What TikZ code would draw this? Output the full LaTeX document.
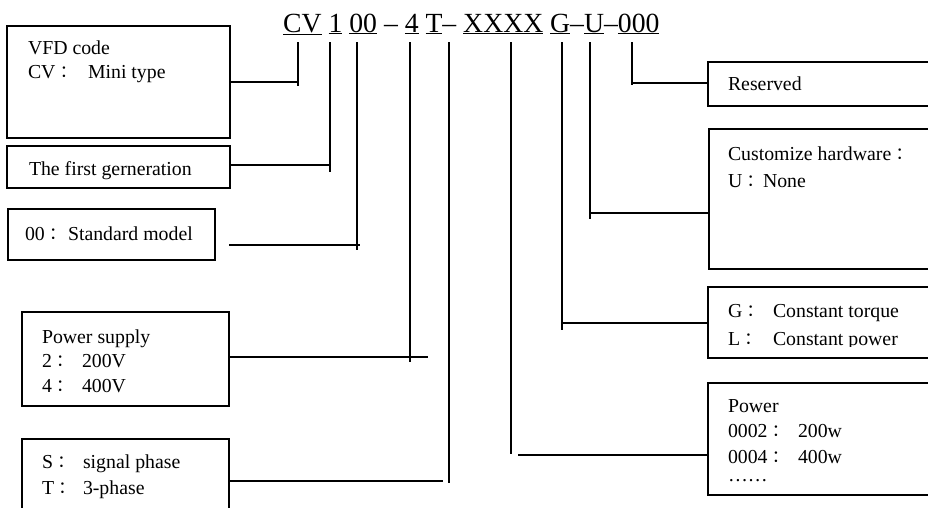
\documentclass[tikz,border=0pt]{standalone}
\usepackage{fontspec}
\setmainfont{Liberation Serif}
\newfontfamily\cjk[Scale=0.85]{Noto Sans CJK TC}
\newcommand{\bxfont}{\fontsize{19.8}{24}\selectfont}
\newcommand{\ttlfont}{\fontsize{27.7}{33}\selectfont}
\newcommand{\fc}{{\cjk ：}}
\tikzset{
  box/.style={draw, line width=1.7pt, rectangle, inner sep=0pt, outer sep=0pt, anchor=north west},
  conn/.style={line width=1.4pt},
  txt/.style={inner sep=0pt, outer sep=0pt, anchor=base west, font=\bxfont},
}
\begin{document}
\begin{tikzpicture}[x=1pt,y=-1pt]
\useasboundingbox (0,0) rectangle (928,507);
\fill[white] (0,0) rectangle (928,507);
\clip (0,0) rectangle (928,507);

% title
\node[inner sep=0pt, anchor=base west, font=\ttlfont] (title) at (283,32)
  {\underline{CV} \underline{1} \underline{00} – \underline{4} \underline{T}– \underline{XXXX} \underline{G}–\underline{U}–\underline{000}};

% tick tops
\coordinate (kCV) at (298,42);
\coordinate (kOne) at (330,42);
\coordinate (kZero) at (357,42);
\coordinate (kFour) at (410,42);
\coordinate (kT) at (449,42);
\coordinate (kX) at (511,42);
\coordinate (kG) at (562,42);
\coordinate (kU) at (590,42);
\coordinate (kRes) at (632,42);

% left boxes
\node[box, minimum width=223pt, minimum height=112pt] (vfd) at (7,26) {};
\node[box, minimum width=223pt, minimum height=42pt] (gen) at (7,146) {};
\node[box, minimum width=207pt, minimum height=51pt] (std) at (8,209) {};
\node[box, minimum width=207pt, minimum height=94pt] (pwr) at (22,312) {};
\node[box, minimum width=207pt, minimum height=90pt] (phase) at (22,439) {};

% right boxes
\node[box, minimum width=240pt, minimum height=44pt] (res) at (708,62) {};
\node[box, minimum width=240pt, minimum height=140pt] (cust) at (709,129) {};
\node[box, minimum width=240pt, minimum height=71pt] (gl) at (708,287) {};
\node[box, minimum width=240pt, minimum height=112pt] (pw) at (708,383) {};

% texts left
\node[txt] (t1a) at (28,54) {VFD code};
\node[txt] (t1b) at (28,78) {CV\fc};
\node[txt] (t1c) at (88,78) {Mini type};
\node[txt] (t2) at (29,175) {The first gerneration};
\node[txt] (t3a) at (25,240) {00\fc};
\node[txt] (t3b) at (68,240) {Standard model};
\node[txt] (t4a) at (42,343) {Power supply};
\node[txt] (t4b) at (42,367) {2\fc};
\node[txt] (t4c) at (82,367) {200V};
\node[txt] (t4d) at (42,392) {4\fc};
\node[txt] (t4e) at (82,392) {400V};
\node[txt] (t5a) at (42,468) {S\fc};
\node[txt] (t5b) at (83,468) {signal phase};
\node[txt] (t5c) at (42,494) {T\fc};
\node[txt] (t5d) at (83,494) {3-phase};

% texts right
\node[txt] (t6) at (728,90) {Reserved};
\node[txt] (t7a) at (728,160) {Customize hardware\fc};
\node[txt] (t7b) at (728,187) {U\fc};
\node[txt] (t7c) at (763,187) {None};
\node[txt] (t8a) at (728,317) {G\fc};
\node[txt] (t8b) at (773,317) {Constant torque};
\begin{scope}
\clip (708,287) rectangle (928,346.5);
\node[txt] (t8c) at (728,345) {L\fc};
\node[txt] (t8d) at (773,345) {Constant power};
\end{scope}
\node[txt] (t9a) at (728,412) {Power};
\node[txt] (t9b) at (728,437) {0002\fc};
\node[txt] (t9c) at (798,437) {200w};
\node[txt] (t9d) at (728,463) {0004\fc};
\node[txt] (t9e) at (798,463) {400w};
\node[txt] (t9f) at (728,481) {……};

% connectors: verticals
\draw[conn] (kCV) -- ++(0,44);
\draw[conn] (kOne) -- ++(0,130);
\draw[conn] (kZero) -- ++(0,208);
\draw[conn] (kFour) -- ++(0,320);
\draw[conn] (kT) -- ++(0,441);
\draw[conn] (kX) -- ++(0,412);
\draw[conn] (kG) -- ++(0,288);
\draw[conn] (kU) -- ++(0,177);
\draw[conn] (kRes) -- ++(0,43);

% connectors: horizontals
\draw[conn] (vfd.east |- 0,82) -- (kCV |- 0,82);
\draw[conn] (gen.east |- 0,165) -- (kOne |- 0,165);
\draw[conn] (229,245) coordinate (s3) -- (kZero |- 0,245) -- ++(3,0);
\draw[conn] (pwr.east |- 0,357) -- (428,357);
\draw[conn] (phase.east |- 0,481) -- (443,481);
\draw[conn] (518,455) -- (pw.west |- 0,455);
\draw[conn] (kG |- 0,323) -- (gl.west |- 0,323);
\draw[conn] (kU |- 0,213) -- (cust.west |- 0,213);
\draw[conn] (kRes |- 0,83) -- (res.west |- 0,83);
\end{tikzpicture}
\end{document}
